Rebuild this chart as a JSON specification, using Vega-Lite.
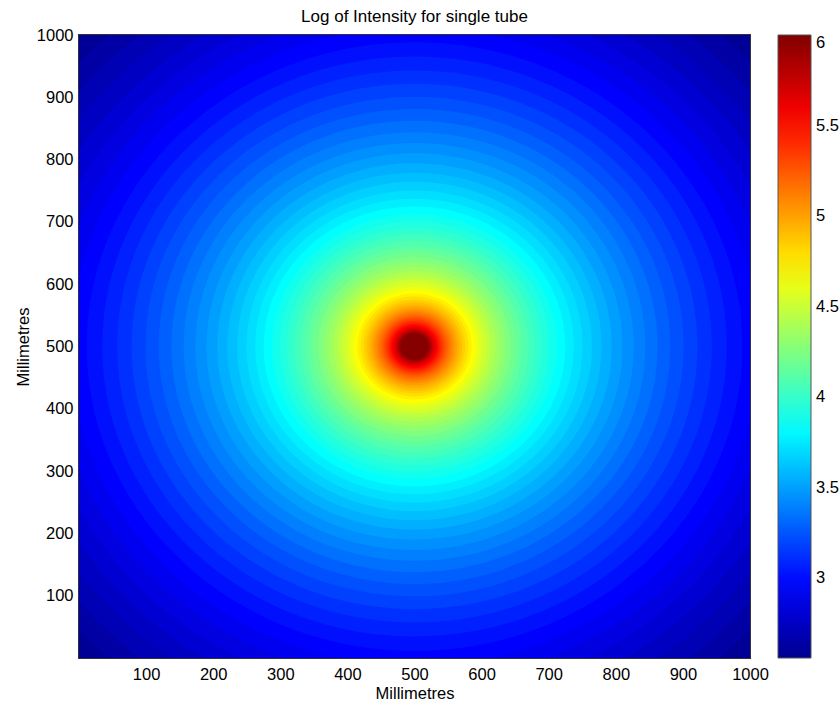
{
  "$schema": "https://vega.github.io/schema/vega-lite/v6.json",
  "autosize": {"type": "none"},
  "padding": {"left": 79, "top": 35, "right": 90, "bottom": 48},
  "width": 671,
  "height": 623,
  "background": "#ffffff",
  "title": {"text": "Log of Intensity for single tube", "font": "Liberation Sans", "fontSize": 17, "fontWeight": "normal", "color": "#000000", "anchor": "middle", "offset": 1},
  "data": {"values": [
    {"r": 1000, "v": 2.5869}, {"r": 676.4, "v": 2.6406}, {"r": 646.7, "v": 2.6944}, {"r": 618.0, "v": 2.7481},
    {"r": 590.2, "v": 2.8019}, {"r": 563.4, "v": 2.8556}, {"r": 537.5, "v": 2.9094}, {"r": 512.6, "v": 2.9631},
    {"r": 488.5, "v": 3.0169}, {"r": 465.3, "v": 3.0706}, {"r": 443.0, "v": 3.1244}, {"r": 421.6, "v": 3.1781},
    {"r": 401.0, "v": 3.2319}, {"r": 381.2, "v": 3.2856}, {"r": 362.2, "v": 3.3394}, {"r": 344.0, "v": 3.3931},
    {"r": 326.7, "v": 3.4469}, {"r": 310.0, "v": 3.5006}, {"r": 294.0, "v": 3.5544}, {"r": 278.8, "v": 3.6081},
    {"r": 264.4, "v": 3.6619}, {"r": 250.5, "v": 3.7156}, {"r": 237.3, "v": 3.7694}, {"r": 224.7, "v": 3.8231},
    {"r": 212.6, "v": 3.8769}, {"r": 201.2, "v": 3.9306}, {"r": 190.3, "v": 3.9844}, {"r": 179.9, "v": 4.0381},
    {"r": 170.1, "v": 4.0919}, {"r": 160.7, "v": 4.1456}, {"r": 151.9, "v": 4.1994}, {"r": 143.4, "v": 4.2531},
    {"r": 135.5, "v": 4.3069}, {"r": 127.9, "v": 4.3606}, {"r": 120.7, "v": 4.4144}, {"r": 113.9, "v": 4.4681},
    {"r": 107.5, "v": 4.5219}, {"r": 101.4, "v": 4.5756}, {"r": 95.6, "v": 4.6294}, {"r": 90.1, "v": 4.6831},
    {"r": 85.0, "v": 4.7369}, {"r": 80.1, "v": 4.7906}, {"r": 75.5, "v": 4.8444}, {"r": 71.2, "v": 4.8981},
    {"r": 67.0, "v": 4.9519}, {"r": 63.2, "v": 5.0056}, {"r": 59.5, "v": 5.0594}, {"r": 56.0, "v": 5.1131},
    {"r": 52.8, "v": 5.1669}, {"r": 49.7, "v": 5.2206}, {"r": 46.8, "v": 5.2744}, {"r": 44.1, "v": 5.3281},
    {"r": 41.5, "v": 5.3819}, {"r": 39.0, "v": 5.4356}, {"r": 36.7, "v": 5.4894}, {"r": 34.6, "v": 5.5431},
    {"r": 32.5, "v": 5.5969}, {"r": 30.6, "v": 5.6506}, {"r": 28.8, "v": 5.7044}, {"r": 27.1, "v": 5.7581},
    {"r": 25.5, "v": 5.8119}, {"r": 24.0, "v": 5.8656}, {"r": 22.6, "v": 5.9194}, {"r": 21.2, "v": 5.9731}
  ]},
  "mark": {
    "type": "point",
    "shape": "M-1,0A1,0.92846,0,1,0,1,0A1,0.92846,0,1,0,-1,0Z",
    "filled": true,
    "opacity": 1,
    "strokeWidth": 0,
    "clip": true
  },
  "encoding": {
    "x": {"datum": 500, "type": "quantitative",
      "scale": {"domain": [0, 1000], "nice": false, "zero": false},
      "axis": {"title": "Millimetres", "values": [100, 200, 300, 400, 500, 600, 700, 800, 900, 1000], "format": "d", "labelPadding": 8, "titlePadding": 3, "labelFlush": false, "labelOverlap": false}},
    "y": {"datum": 500, "type": "quantitative",
      "scale": {"domain": [0, 1000], "nice": false, "zero": false},
      "axis": {"title": "Millimetres", "values": [100, 200, 300, 400, 500, 600, 700, 800, 900, 1000], "format": "d", "labelPadding": 6, "titlePadding": 5, "labelFlush": false, "labelOverlap": false}},
    "size": {"field": "r", "type": "quantitative",
      "scale": {"type": "pow", "exponent": 2, "domain": [0, 1000], "range": [0, 1800964]},
      "legend": null},
    "color": {"field": "v", "type": "quantitative",
      "scale": {"domain": [2.56, 2.9631, 3.8231, 4.6831, 5.5431, 6], "range": ["#00008f", "#0000ff", "#00ffff", "#ffff00", "#ff0000", "#800000"], "interpolate": "rgb"},
      "legend": {"type": "gradient", "direction": "vertical", "orient": "right", "title": null, "offset": 28,
        "gradientLength": 623, "gradientThickness": 33, "gradientStrokeColor": "#555555", "gradientStrokeWidth": 1,
        "values": [3, 3.5, 4, 4.5, 5, 5.5, 6], "format": "~g", "labelOffset": 5, "labelBaseline": "middle",
        "labelFont": "Liberation Sans", "labelFontSize": 16.5, "labelColor": "#000000", "labelOverlap": false}},
    "order": {"field": "v", "type": "quantitative", "sort": "ascending"}
  },
  "config": {
    "view": {"stroke": "#333333", "strokeWidth": 2},
    "axis": {"labelFont": "Liberation Sans", "labelFontSize": 16.5, "labelColor": "#000000",
      "titleFont": "Liberation Sans", "titleFontSize": 16.5, "titleFontWeight": "normal", "titleColor": "#000000",
      "ticks": false, "grid": false, "domain": true, "domainColor": "#333333", "domainWidth": 1, "zindex": 1}
  }
}
